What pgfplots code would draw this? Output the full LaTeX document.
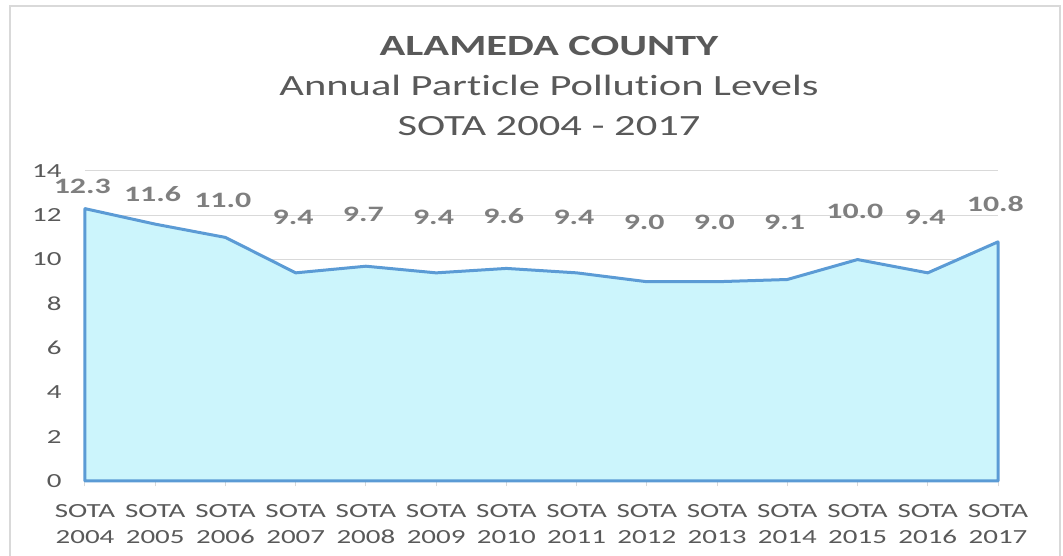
\documentclass[border=0pt]{standalone}
\usepackage{fontspec}
\setmainfont{Carlito}[FakeStretch=1.45, Ligatures=NoCommon]
\usepackage{pgfplots}
\pgfplotsset{compat=1.18}
\definecolor{txt}{HTML}{595959}
\definecolor{lbl}{HTML}{7F7F7F}
\definecolor{ln}{HTML}{5B9BD5}
\definecolor{fl}{HTML}{CCF5FC}
\definecolor{grd}{HTML}{D9D9D9}
\begin{document}
\begin{tikzpicture}
\useasboundingbox (-63.75pt,-56.25pt) rectangle (733.5pt,360.75pt);
\draw[grd, line width=1.5pt] (-56.25pt,-70pt) -- (-56.25pt,356.25pt) -- (731.25pt,356.25pt) -- (731.25pt,-70pt);
\begin{axis}[
  at={(0,0)}, anchor=south west,
  scale only axis, width=684.75pt, height=232.5pt,
  xmin=0, xmax=13, ymin=0, ymax=14,
  separate axis lines,
  axis x line*=bottom, axis y line*=left,
  y axis line style={draw=none},
  x axis line style={draw=grd, line width=0.75pt},
  xtick={0,...,13},
  xticklabels={{SOTA\\2004},{SOTA\\2005},{SOTA\\2006},{SOTA\\2007},{SOTA\\2008},{SOTA\\2009},{SOTA\\2010},{SOTA\\2011},{SOTA\\2012},{SOTA\\2013},{SOTA\\2014},{SOTA\\2015},{SOTA\\2016},{SOTA\\2017}},
  xticklabel style={align=center, font=\fontsize{15}{19.5}\selectfont, text=txt, yshift=-10pt},
  ytick={0,2,...,14},
  yticklabel style={font=\fontsize{15}{17}\selectfont, text=txt, xshift=-10pt},
  /pgf/number format/assume math mode=true,
  tick align=outside, major tick length=4pt,
  xtick style={draw=grd, line width=0.75pt},
  ytick style={draw=none},
  ymajorgrids, grid style={draw=grd, line width=0.75pt},
  clip=false,
]
\addplot[draw=ln, fill=fl, line width=2.25pt, line join=round] coordinates {
(0,12.3) (1,11.6) (2,11.0) (3,9.4) (4,9.7) (5,9.4) (6,9.6) (7,9.4) (8,9.0) (9,9.0) (10,9.1) (11,10.0) (12,9.4) (13,10.8)
} \closedcycle;
% data labels, placed where the reference shows them
\addplot[draw=none, mark=none, point meta=explicit symbolic,
  nodes near coords,
  every node near coord/.style={font=\fontsize{16.5}{19}\selectfont\bfseries, text=lbl, anchor=center, xshift=-2pt}] coordinates {
(0,13.32)[12.3] (1,12.95)[11.6] (2,12.68)[11.0] (3,11.89)[9.4] (4,12.02)[9.7] (5,11.89)[9.4] (6,11.98)[9.6] (7,11.89)[9.4] (8,11.67)[9.0] (9,11.67)[9.0] (10,11.70)[9.1] (11,12.18)[10.0] (12,11.89)[9.4] (13,12.53)[10.8]
};
\end{axis}
\node[anchor=base, text=txt, font=\fontsize{22}{26}\selectfont\bfseries] at (348pt,318.75pt) {ALAMEDA COUNTY};
\node[anchor=base, text=txt, font=\fontsize{22}{26}\selectfont] at (348pt,288.75pt) {Annual Particle Pollution Levels};
\node[anchor=base, text=txt, font=\fontsize{22}{26}\selectfont] at (348pt,258.75pt) {SOTA 2004 - 2017};
\end{tikzpicture}
\end{document}
